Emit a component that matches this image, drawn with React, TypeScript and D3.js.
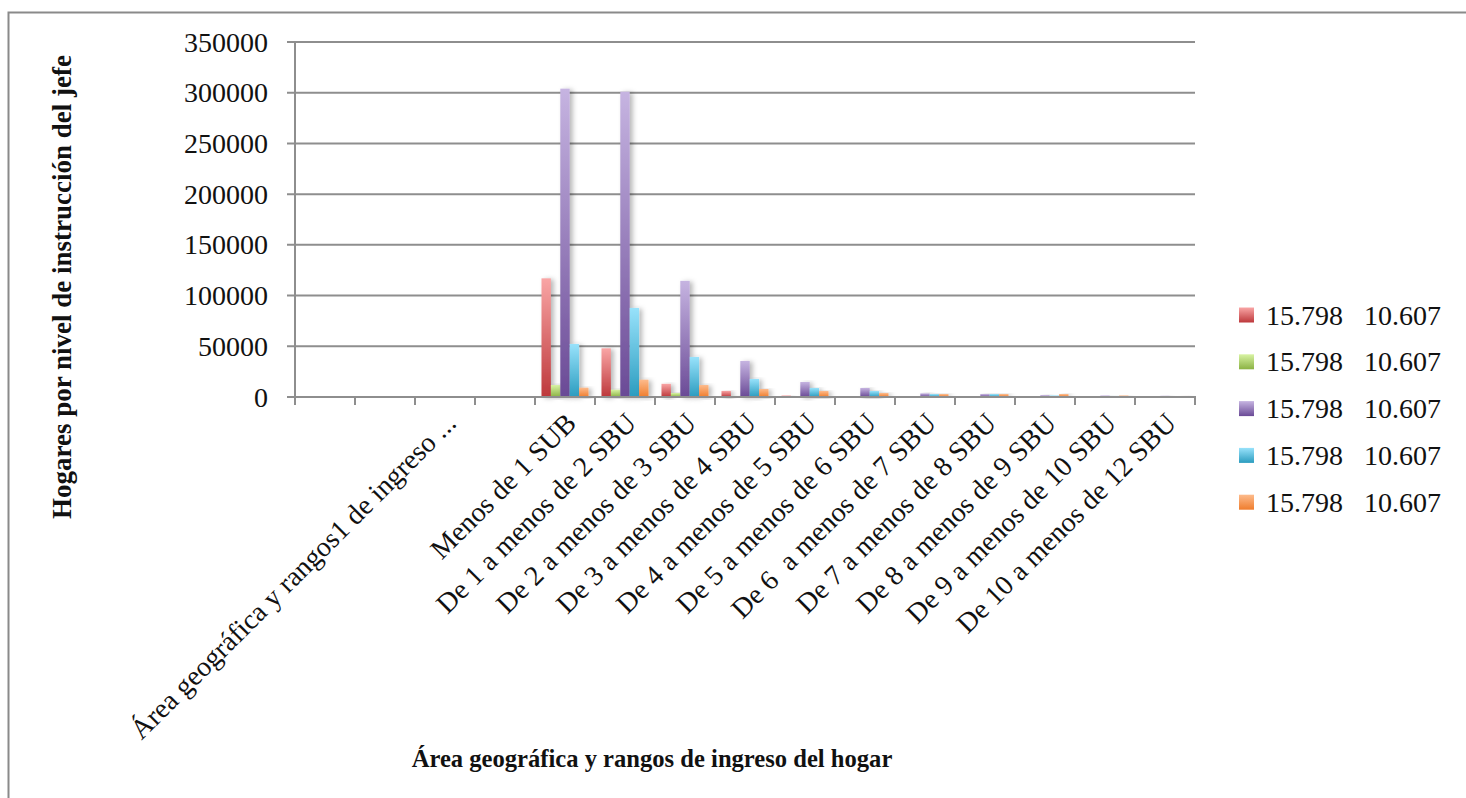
import React from "react";
import * as d3 from "d3";

const categories = [
  "",
  "",
  "Área geográfica y rangos1 de ingreso ...",
  "",
  "Menos de 1 SUB",
  "De 1 a menos de 2 SBU",
  "De 2 a menos de 3 SBU",
  "De 3 a menos de 4 SBU",
  "De 4 a menos de 5 SBU",
  "De 5 a menos de 6 SBU",
  "De 6  a menos de 7 SBU",
  "De 7 a menos de 8 SBU",
  "De 8 a menos de 9 SBU",
  "De 9 a menos de 10 SBU",
  "De 10 a menos de 12 SBU",
];

const seriesRed = [0, 0, 0, 0, 117000, 48000, 13000, 6000, 1500, 500, 300, 200, 150, 100, 100];
const seriesGreen = [0, 0, 0, 0, 11800, 7200, 3900, 1000, 400, 200, 150, 100, 100, 80, 60];
const seriesPurple = [0, 0, 0, 0, 304000, 301000, 114500, 35500, 14800, 8900, 3600, 2900, 1800, 1500, 1200];
const seriesBlue = [0, 0, 0, 0, 52300, 87800, 39500, 17800, 8900, 5900, 2900, 2900, 1500, 1000, 800];
const seriesOrange = [0, 0, 0, 0, 9200, 17100, 11800, 7900, 5900, 3900, 2900, 2900, 2900, 1500, 1000];

const legendLabels = ["15.798   10.607", "15.798   10.607", "15.798   10.607", "15.798   10.607", "15.798   10.607"];
const yTicks = [0, 50000, 100000, 150000, 200000, 250000, 300000, 350000];

const yTitle = "Hogares por nivel de instrucción del jefe";
const xTitle = "Área geográfica y rangos de ingreso del hogar";

const seriesList = [seriesRed, seriesGreen, seriesPurple, seriesBlue, seriesOrange];
const gradients = [
  ["#f9a5a5", "#bd383b"],
  ["#d8f3a3", "#8bb244"],
  ["#c6b4e1", "#6a4a96"],
  ["#98e2fb", "#2b9cbf"],
  ["#fdbb8c", "#ef7d2d"],
];

const W = 1466;
const H = 798;
const plot = { left: 295, right: 1195, top: 42, bottom: 397 };
const FONT = "'Liberation Serif', 'Times New Roman', serif";
const GRID = "#8e8e8e";

export default function App() {
  const x0 = d3
    .scaleBand<number>()
    .domain(categories.map((_, i) => i))
    .range([plot.left, plot.right])
    .padding(0);
  const x1 = d3
    .scaleBand<number>()
    .domain(seriesList.map((_, i) => i))
    .range([0, x0.bandwidth()])
    .paddingInner(0)
    .paddingOuter(0.69);
  const y = d3.scaleLinear().domain([0, 350000]).range([plot.bottom, plot.top]);

  const boundaries = d3.range(categories.length + 1).map((i) => plot.left + i * x0.step());

  return (
    <svg
      width={W}
      height={H}
      style={{ position: "absolute", left: 0, top: 0, background: "#fff" }}
      fontFamily={FONT}
    >
      <defs>
        {gradients.map((g, i) => (
          <linearGradient key={i} id={`grad${i}`} x1="0" y1="0" x2="0" y2="1">
            <stop offset="0%" stopColor={g[0]} />
            <stop offset="100%" stopColor={g[1]} />
          </linearGradient>
        ))}
        <filter id="shadow" x="-50%" y="-10%" width="250%" height="130%">
          <feDropShadow dx="3" dy="1" stdDeviation="2.5" floodColor="#000" floodOpacity="0.28" />
        </filter>
      </defs>

      {/* outer frame */}
      <rect x={8.5} y={12.5} width={W + 10} height={H + 10} fill="none" stroke="#8a8a8a" strokeWidth={2} />

      {/* gridlines + y ticks */}
      {yTicks.map((t) => (
        <g key={t}>
          <line x1={plot.left - 8} x2={plot.right} y1={y(t)} y2={y(t)} stroke={GRID} strokeWidth={2} />
          <text
            x={268}
            y={y(t)}
            textAnchor="end"
            dominantBaseline="central"
            fontSize={28}
            fill="#111"
          >
            {t}
          </text>
        </g>
      ))}

      {/* y axis line */}
      <line x1={plot.left} x2={plot.left} y1={plot.top} y2={plot.bottom} stroke={GRID} strokeWidth={2} />

      {/* bars */}
      {categories.map((_, ci) => (
        <g key={ci} transform={`translate(${x0(ci)},0)`}>
          {seriesList.map((s, si) => {
            const v = s[ci];
            if (!v) return null;
            const top = y(v);
            return (
              <rect
                key={si}
                x={x1(si)}
                y={top}
                width={x1.bandwidth()}
                height={plot.bottom - top}
                fill={`url(#grad${si})`}
                filter="url(#shadow)"
              />
            );
          })}
        </g>
      ))}

      {/* x axis */}
      <line x1={plot.left - 1} x2={plot.right + 1} y1={plot.bottom} y2={plot.bottom} stroke={GRID} strokeWidth={2} />
      {boundaries.map((bx, i) => (
        <line key={i} x1={bx} x2={bx} y1={plot.bottom} y2={plot.bottom + 8} stroke={GRID} strokeWidth={2} />
      ))}

      {/* x tick labels */}
      {categories.map((c, i) =>
        c ? (
          <text
            key={i}
            transform={`translate(${(x0(i) as number) + x0.bandwidth() / 2 + 6},${plot.bottom + 21}) rotate(-45)`}
            textAnchor="end"
            dominantBaseline="central"
            fontSize={28}
            fill="#111"
            style={{ whiteSpace: "pre" }}
          >
            {c}
          </text>
        ) : null
      )}

      {/* axis titles */}
      <text
        transform={`translate(62,287) rotate(-90)`}
        textAnchor="middle"
        dominantBaseline="central"
        fontSize={27}
        fontWeight="bold"
        fill="#111"
      >
        {yTitle}
      </text>
      <text x={652} y={758} textAnchor="middle" dominantBaseline="central" fontSize={24.6} fontWeight="bold" fill="#111">
        {xTitle}
      </text>

      {/* legend */}
      {legendLabels.map((l, i) => {
        const ly = 315 + i * 46.8;
        return (
          <g key={i}>
            <rect x={1239} y={ly - 7.5} width={15} height={15} fill={`url(#grad${i})`} />
            <text x={1266} y={ly} dominantBaseline="central" fontSize={28} fill="#111" style={{ whiteSpace: "pre" }}>
              {l}
            </text>
          </g>
        );
      })}
    </svg>
  );
}
